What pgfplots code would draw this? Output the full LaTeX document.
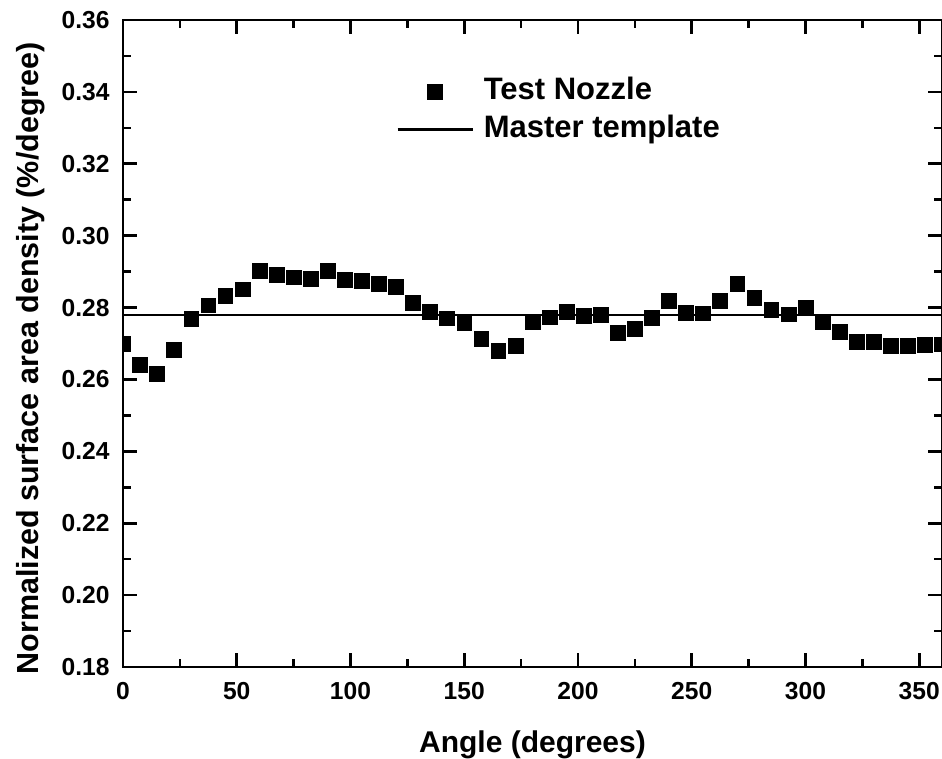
\documentclass[border=0pt]{standalone}
\usepackage{fontspec}
\setmainfont{Liberation Sans}
\usepackage{pgfplots}
\pgfplotsset{compat=1.18}

\pgfplotsset{
    sqlegend/.style={legend image code/.code={%
        \draw[mark repeat=2, mark phase=2, ##1] plot coordinates {(0pt,0pt) (18.75pt,0pt) (37.5pt,0pt)};}},
    linelegend/.style={legend image code/.code={%
        \draw[##1] (0pt,0pt) -- (37.5pt,0pt);}},
}

% measured surface area density, one point every 7.5 degrees
\pgfplotstableread{
ang   dens
0     0.2700
7.5   0.2640
15    0.2615
22.5  0.2682
30    0.2768
37.5  0.2806
45    0.2833
52.5  0.2851
60    0.2902
67.5  0.2890
75    0.2884
82.5  0.2881
90    0.2902
97.5  0.2877
105   0.2875
112.5 0.2867
120   0.2858
127.5 0.2813
135   0.2788
142.5 0.2770
150   0.2758
157.5 0.2712
165   0.2679
172.5 0.2693
180   0.2759
187.5 0.2773
195   0.2788
202.5 0.2777
210   0.2779
217.5 0.2730
225   0.2740
232.5 0.2772
240   0.2818
247.5 0.2786
255   0.2784
262.5 0.2818
270   0.2867
277.5 0.2827
285   0.2793
292.5 0.2781
300   0.2800
307.5 0.2759
315   0.2733
322.5 0.2705
330   0.2705
337.5 0.2693
345   0.2694
352.5 0.2696
360   0.2698
}\nozzle

\begin{document}
\begin{tikzpicture}
\begin{axis}[
    name=ax,
    scale only axis,
    width=409.5pt, height=323.5pt,
    xmin=0, xmax=360,
    ymin=0.18, ymax=0.36,
    xtick={0,50,...,350},
    ytick={0.18,0.20,...,0.36},
    minor x tick num=1,
    minor y tick num=1,
    tick align=inside,
    major tick length=7pt,
    minor tick length=4pt,
    axis line style={line width=1.3pt},
    every tick/.style={black, line width=1.3pt},
    /pgf/number format/assume math mode=true,
    tick label style={font=\fontsize{12.3}{14}\selectfont\bfseries, inner sep=0pt},
    xticklabel style={yshift=-7.5pt},
    yticklabel style={xshift=-6.5pt, /pgf/number format/.cd, fixed, fixed zerofill, precision=2},
    every axis x label/.style={at={(axis description cs:0.5,0)}, yshift=-39pt, anchor=center},
    every axis y label/.style={at={(axis description cs:0,0.477)}, xshift=-46pt, rotate=90, anchor=center},
    xlabel={\fontsize{15}{17}\selectfont\bfseries Angle (degrees)},
    ylabel={\fontsize{15.25}{17}\selectfont\bfseries Normalized surface area density (\%/degree)},
    clip marker paths=true,
    legend style={draw=none, fill=none, at={(axis description cs:0.326,0.918)}, anchor=north west,
        font=\fontsize{15.5}{17}\selectfont\bfseries, row sep=5pt,
        nodes={inner sep=0pt, text height=11pt, text depth=3pt}},
    legend cell align=left,
]
\addplot[only marks, mark=square*, mark size=3.7pt, mark options={fill=black, draw=black, line width=0.3pt}, sqlegend]
    table[x=ang, y=dens] {\nozzle};
\addlegendentry{\hspace{5pt}Test Nozzle}
\addplot[black, line width=1.2pt, linelegend]
    coordinates {(0,0.278) (360,0.278)};
\addlegendentry{\hspace{5pt}Master template}
\end{axis}
\pgfresetboundingbox
\path ([xshift=-61.5pt,yshift=-46pt]ax.south west) rectangle ([yshift=10pt]ax.north east);
\end{tikzpicture}
\end{document}
